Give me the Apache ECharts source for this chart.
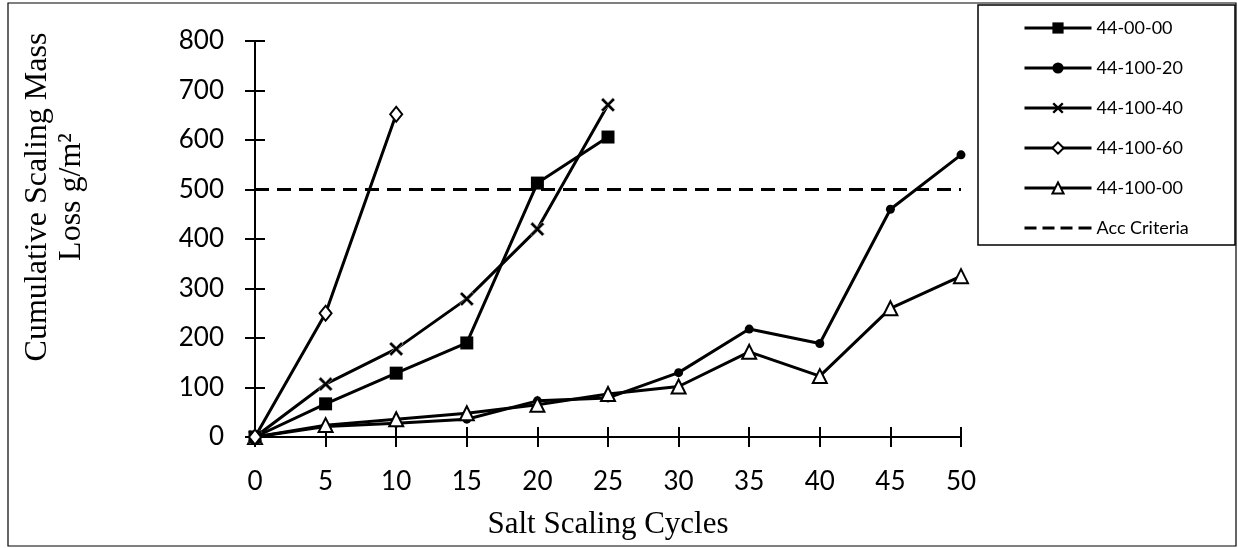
<!DOCTYPE html>
<html><head><meta charset="utf-8">
<script src="https://cdn.jsdelivr.net/npm/echarts@6/dist/echarts.min.js"></script>
<style>html,body{margin:0;padding:0;background:#fff}#c{width:1238px;height:548px}</style>
</head><body><div id="c"></div>
<script>
const cycles = [0,5,10,15,20,25,30,35,40,45,50];
const s4400 = [0,67,129,190,513,606];
const s4410020 = [0,21,28,36,73,79,130,218,189,460,570];
const s4410040 = [0,107,178,279,420,671];
const s4410060 = [0,250,652];
const s4410000 = [0,24,36,48,65,87,102,172,123,260,325];
const accCriteria = 500;
const seriesNames = ['44-00-00','44-100-20','44-100-40','44-100-60','44-100-00','Acc Criteria'];
const xTitle = 'Salt Scaling Cycles';
const yTitle1 = 'Cumulative Scaling Mass';
const yTitle2 = 'Loss g/m²';

function pts(vals){ return vals.map((v,i)=>[cycles[i],v]); }
const xSym = 'path://M0,1.5 L1.5,0 L5,3.5 L8.5,0 L10,1.5 L6.5,5 L10,8.5 L8.5,10 L5,6.5 L1.5,10 L0,8.5 L3.5,5 Z';
const dashIcon = 'path://M0,5.5h12v3h-12z M18,5.5h12v3h-12z M36,5.5h12v3h-12z M54,5.5h13v3h-13z M0,0h0.01v0.01h-0.01z M66.99,13.99h0.01v0.01h-0.01z';

const chart = echarts.init(document.getElementById('c'));
const base = {type:'line', lineStyle:{color:'#000',width:3}, itemStyle:{color:'#000'}, z:3};
const serifFont = '"Liberation Serif", "Times New Roman", serif';
const sansFont = 'Lato, "Open Sans", sans-serif';
chart.setOption({
  animation:false,
  backgroundColor:'#fff',
  graphic:[
    {type:'rect',shape:{x:8,y:3,width:1228,height:543},style:{fill:'none',stroke:'#000',lineWidth:1.2},z:-1},
    {type:'rect',shape:{x:978,y:5,width:257,height:240},style:{fill:'#fff',stroke:'#000',lineWidth:1.5},z:0},
    {type:'text',x:38,y:197,rotation:Math.PI/2,style:{text:yTitle1,font:'32px '+serifFont,fill:'#000',textAlign:'center',textVerticalAlign:'middle'}},
    {type:'text',x:72,y:197,rotation:Math.PI/2,style:{text:yTitle2,font:'32px '+serifFont,fill:'#000',textAlign:'center',textVerticalAlign:'middle'}}
  ],
  grid:{left:255,top:41,width:706,height:396,containLabel:false,outerBoundsMode:'none'},
  legend:{
    orient:'vertical', left:1023, top:19, padding:0,
    itemWidth:67, itemHeight:14, itemGap:22, z:5,
    lineStyle:{width:3},
    textStyle:{fontFamily:sansFont, fontSize:18, color:'#000'},
    data:[
      {name:seriesNames[0]},{name:seriesNames[1]},
      {name:seriesNames[2], itemStyle:{borderWidth:0}},
      {name:seriesNames[3]},{name:seriesNames[4]},
      {name:seriesNames[5], icon:dashIcon}
    ]
  },
  xAxis:[{
    type:'value', min:0, max:50, interval:5,
    name:xTitle, nameLocation:'middle', nameGap:72,
    nameTextStyle:{fontFamily:serifFont, fontSize:31, color:'#000'},
    axisLine:{lineStyle:{color:'#000',width:2}},
    axisTick:{show:true,length:10,lineStyle:{color:'#000',width:2}},
    axisLabel:{fontFamily:sansFont, fontSize:26, color:'#000', margin:32},
    splitLine:{show:false}
  },{
    type:'value', min:0, max:50, interval:5, position:'bottom',
    axisLine:{show:false}, axisLabel:{show:false}, splitLine:{show:false},
    axisTick:{show:true,inside:true,length:10,lineStyle:{color:'#000',width:2}}
  }],
  yAxis:[{
    type:'value', min:0, max:800, interval:100,
    axisLine:{show:true,lineStyle:{color:'#000',width:2}},
    axisTick:{show:true,length:10,lineStyle:{color:'#000',width:2}},
    axisLabel:{fontFamily:sansFont, fontSize:26, color:'#000', margin:31},
    splitLine:{show:false}
  },{
    type:'value', min:0, max:800, interval:100, position:'left',
    axisLine:{show:false}, axisLabel:{show:false}, splitLine:{show:false},
    axisTick:{show:true,inside:true,length:10,lineStyle:{color:'#000',width:2}}
  }],
  series:[
    Object.assign({},base,{name:seriesNames[5], data:[[0,accCriteria],[50,accCriteria]], symbol:'none', z:2,
      lineStyle:{color:'#000',width:3,type:[14,8]}}),
    Object.assign({},base,{name:seriesNames[1], data:pts(s4410020), symbol:'circle', symbolSize:9}),
    Object.assign({},base,{name:seriesNames[4], data:pts(s4410000), symbol:'triangle', symbolSize:14,
      itemStyle:{color:'#fff',borderColor:'#000',borderWidth:2}}),
    Object.assign({},base,{name:seriesNames[2], data:pts(s4410040), symbol:xSym, symbolSize:14,
      itemStyle:{color:'#000',borderColor:'#bbb',borderWidth:0.6}}),
    Object.assign({},base,{name:seriesNames[0], data:pts(s4400), symbol:'rect', symbolSize:13}),
    Object.assign({},base,{name:seriesNames[3], data:pts(s4410060), symbol:'diamond', symbolSize:[12,15],
      itemStyle:{color:'#fff',borderColor:'#000',borderWidth:2}})
  ]
});
</script></body></html>
